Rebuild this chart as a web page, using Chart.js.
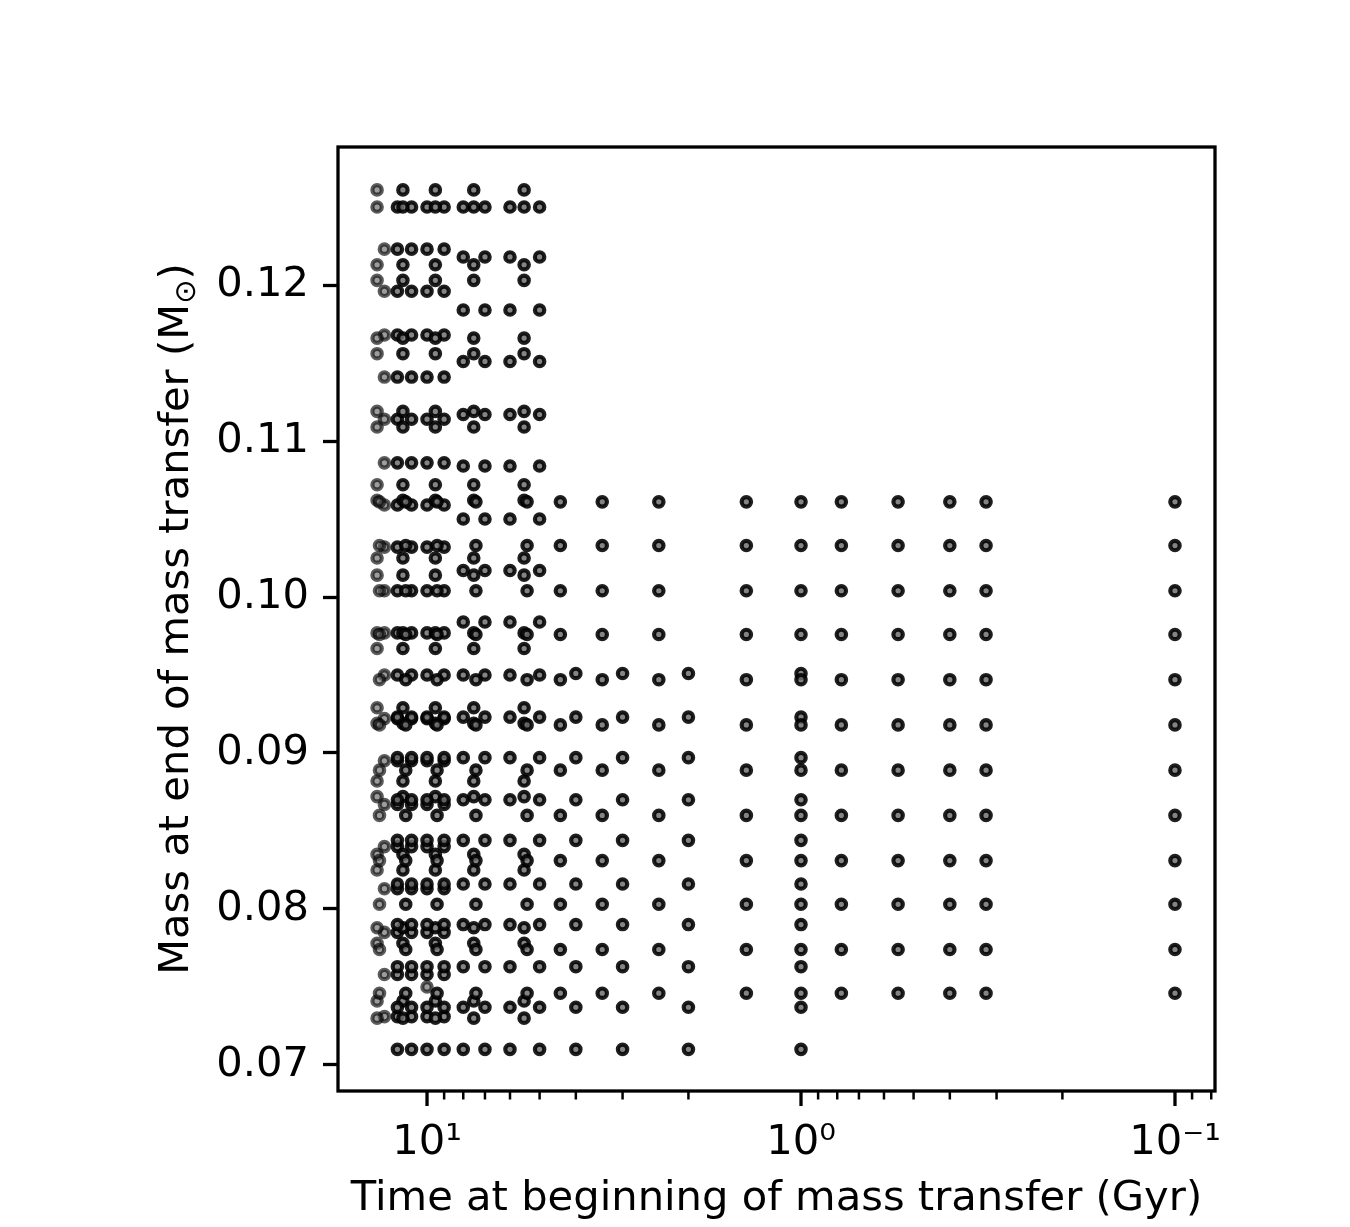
<!DOCTYPE html>
<html>
<head>
<meta charset="utf-8">
<script src="https://cdn.jsdelivr.net/npm/chart.js@4/dist/chart.umd.min.js"></script>
<style>
html,body{margin:0;padding:0;background:#ffffff;}
canvas{display:block;}
</style>
</head>
<body>
<canvas id="c" width="1350" height="1227"></canvas>
<script>
// ---------------- values ----------------
// Ages (Gyr) of point columns and masses (Msun) of point rows, per model grid
const ageGridOneOld = [13];
const ageGridOne = [12, 11, 10, 9];
const massGridOne = [0.1250, 0.1223, 0.1196, 0.1168, 0.1141, 0.1114, 0.1086, 0.1059, 0.1032, 0.1004,
                     0.0977, 0.0950, 0.0922, 0.0895, 0.0867, 0.0840, 0.0813, 0.0785, 0.0758, 0.0731];
const massGridOneOld = [0.1223, 0.1196, 0.1168, 0.1141, 0.1114, 0.1086, 0.1059, 0.1032, 0.1004,
                        0.0977, 0.0950, 0.0922, 0.0895, 0.0867, 0.0840, 0.0813, 0.0785, 0.0758, 0.0731];

const ageGridTwoOld = [13.6];
const ageGridTwo = [11.6, 9.5, 7.5, 5.5];
const massGridTwo = [0.1261, 0.1250, 0.1213, 0.1203, 0.1166, 0.1156, 0.1119, 0.1109, 0.1072, 0.1062,
                     0.1025, 0.1014, 0.0977, 0.0967, 0.0929, 0.0919, 0.0882, 0.0872, 0.0835, 0.0825,
                     0.0788, 0.0778, 0.0741, 0.0730];

const ageGridThree = [8, 7, 6, 5];
const massGridThree = [0.1250, 0.1218, 0.1184, 0.1151, 0.1117, 0.1084, 0.1050, 0.1017, 0.0984, 0.0950];

const ageGridLowFull = [4, 3, 2, 1];
const ageGridLowPart = [12, 11, 10, 9, 8, 7, 6, 5];
const massGridLow = [0.0951, 0.0923, 0.0897, 0.0870, 0.0844, 0.0816, 0.0790, 0.0763, 0.0737, 0.0710];
const massGridLowPart = [0.0923, 0.0897, 0.0870, 0.0844, 0.0816, 0.0790, 0.0763, 0.0737, 0.0710];

const ageGridWideOld = [13.4];
const ageGridWide = [11.4, 9.4, 7.4, 5.4, 4.4, 3.4, 2.4, 1.4, 1.0, 0.78, 0.55, 0.40, 0.32, 0.10];
const massGridWide = [0.1061, 0.1033, 0.1004, 0.0976, 0.0947, 0.0918, 0.0889, 0.0860, 0.0831, 0.0803, 0.0774, 0.0746];

const loneAge = [10.0];
const loneMass = [0.0750];

// axis ticks
const xTickValues = [0.08, 0.09, 0.1, 0.2, 0.3, 0.4, 0.5, 0.6, 0.7, 0.8, 0.9, 1, 2, 3, 4, 5, 6, 7, 8, 9, 10];
const xMajorValues = [0.1, 1, 10];
const xMajorLabels = ['10\u207B\u00B9', '10\u2070', '10\u00B9'];
const yTickValues = [0.07, 0.08, 0.09, 0.10, 0.11, 0.12];
const yTickLabels = ['0.07', '0.08', '0.09', '0.10', '0.11', '0.12'];

const xTitle = 'Time at beginning of mass transfer (Gyr)';
const yTitleMain = 'Mass at end of mass transfer (M';
const yTitleSub = '\u2299';
const yTitleEnd = ')';

// ---------------- build points ----------------
function cross(ages, masses) {
  const out = [];
  ages.forEach(a => masses.forEach(m => out.push({x: a, y: m})));
  return out;
}
const lightPoints = [].concat(
  cross(ageGridOneOld, massGridOneOld),
  cross(ageGridTwoOld, massGridTwo),
  cross(ageGridWideOld, massGridWide),
  cross(loneAge, loneMass)
);
const darkPoints = [].concat(
  cross(ageGridOne, massGridOne),
  cross(ageGridTwo, massGridTwo),
  cross(ageGridThree, massGridThree),
  cross(ageGridLowPart, massGridLowPart),
  cross(ageGridLowFull, massGridLow),
  cross(ageGridWide, massGridWide)
);

const FONT = 'DejaVu Sans';
const FS = 41.67;

const framePlugin = {
  id: 'frame',
  afterDraw(chart) {
    const {ctx, chartArea: a, scales: {x}} = chart;
    ctx.save();
    ctx.strokeStyle = '#000';
    x.ticks.forEach(t => {
      const px = x.getPixelForValue(t.value);
      const major = xMajorValues.indexOf(t.value) >= 0;
      ctx.lineWidth = major ? 3.3 : 2.5;
      ctx.beginPath();
      ctx.moveTo(px, a.bottom);
      ctx.lineTo(px, a.bottom + (major ? 15 : 8.5));
      ctx.stroke();
    });
    ctx.lineWidth = 3.3;
    ctx.strokeRect(a.left, a.top, a.right - a.left, a.bottom - a.top);

    // y axis title with subscript
    ctx.fillStyle = '#000';
    ctx.textBaseline = 'alphabetic';
    ctx.textAlign = 'left';
    const mainFont = FS + 'px "' + FONT + '"';
    const subFont = (FS * 0.7) + 'px "' + FONT + '"';
    ctx.font = mainFont;
    const w1 = ctx.measureText(yTitleMain).width;
    const w3 = ctx.measureText(yTitleEnd).width;
    ctx.font = subFont;
    const w2 = ctx.measureText(yTitleSub).width;
    const total = w1 + w2 + w3;
    ctx.translate(175, (a.top + a.bottom) / 2);
    ctx.rotate(-Math.PI / 2);
    let cx = -total / 2;
    ctx.font = mainFont;
    ctx.fillText(yTitleMain, cx, 13);
    cx += w1;
    ctx.font = subFont;
    ctx.fillText(yTitleSub, cx, 20);
    cx += w2;
    ctx.font = mainFont;
    ctx.fillText(yTitleEnd, cx, 13);
    ctx.restore();
  }
};

new Chart(document.getElementById('c'), {
  type: 'scatter',
  data: {
    datasets: [
      {
        label: 'older',
        data: lightPoints,
        pointRadius: 4.7,
        pointBorderWidth: 4.2,
        pointBackgroundColor: 'rgba(95,95,95,0.62)',
        pointBorderColor: 'rgba(0,0,0,0.64)',
        pointHoverRadius: 4.7
      },
      {
        label: 'models',
        data: darkPoints,
        pointRadius: 4.7,
        pointBorderWidth: 4.2,
        pointBackgroundColor: 'rgba(110,110,110,0.85)',
        pointBorderColor: 'rgba(0,0,0,0.88)',
        pointHoverRadius: 4.7
      }
    ]
  },
  options: {
    responsive: false,
    animation: false,
    devicePixelRatio: 1,
    events: [],
    layout: {padding: {top: 147, right: 135, left: 0, bottom: 0}},
    plugins: {legend: {display: false}, tooltip: {enabled: false}},
    scales: {
      x: {
        type: 'logarithmic',
        reverse: true,
        min: 0.07816,
        max: 17.30,
        afterBuildTicks: s => { s.ticks = xTickValues.map(v => ({value: v, major: xMajorValues.indexOf(v) >= 0})); },
        afterFit: s => { s.height = 136; },
        ticks: {
          autoSkip: false, maxRotation: 0, minRotation: 0, padding: 12, color: '#000',
          font: {family: FONT, size: FS},
          callback: (v, i, ticks) => {
            const k = xMajorValues.indexOf(ticks[i].value);
            return k >= 0 ? xMajorLabels[k] : '';
          }
        },
        grid: {display: false, drawTicks: true, tickLength: 15},
        border: {display: false},
        title: {display: true, text: xTitle, color: '#000', font: {family: FONT, size: FS}, padding: {top: 0, bottom: 3}}
      },
      y: {
        type: 'linear',
        min: 0.06833,
        max: 0.12885,
        afterBuildTicks: s => { s.ticks = yTickValues.map(v => ({value: v})); },
        afterFit: s => { s.width = 338; },
        ticks: {
          padding: 14, color: '#000',
          font: {family: FONT, size: FS},
          callback: (v, i) => yTickLabels[i]
        },
        grid: {drawOnChartArea: false, drawTicks: true, tickLength: 15, tickWidth: 3.3, tickColor: '#000', color: '#000'},
        border: {display: false},
        title: {display: false}
      }
    }
  },
  plugins: [framePlugin]
});
</script>
</body>
</html>
